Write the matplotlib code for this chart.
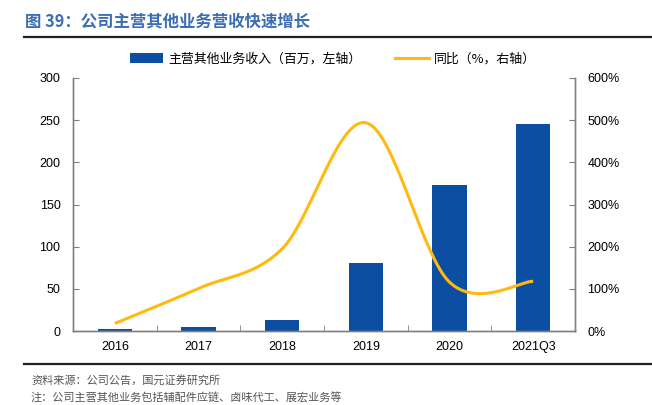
import numpy as np
import matplotlib
matplotlib.use("Agg")
import matplotlib.pyplot as plt
from matplotlib.patches import Patch
from matplotlib.lines import Line2D
from matplotlib.ticker import FuncFormatter

plt.rcParams['font.family'] = ['Liberation Sans', 'Noto Sans CJK SC', 'DejaVu Sans']
CJK = ['Noto Sans CJK SC', 'DejaVu Sans']

categories = ['2016', '2017', '2018', '2019', '2020', '2021Q3']
revenue = [2.4, 4.7, 13.4, 80.3, 173.5, 245.6]          # 百万
yoy = [0.18, 1.01, 1.95, 4.94, 1.16, 1.18]              # 同比 (fraction)
left_ticks = [0, 50, 100, 150, 200, 250, 300]
right_ticks = [0, 1, 2, 3, 4, 5, 6]

title = '图 39：公司主营其他业务营收快速增长'
bar_label = '主营其他业务收入（百万，左轴）'
line_label = '同比（%，右轴）'
source = '资料来源：公司公告，国元证券研究所'
note = '注：公司主营其他业务包括辅配件应链、卤味代工、展宏业务等'

BLUE = '#0B4EA2'
GOLD = '#FFB90F'
SPINE = '#808080'

W, H = 652, 405
fig = plt.figure(figsize=(W / 100, H / 100), dpi=100)
L, R, T, B = 73, 575, 78, 331
ax = fig.add_axes([L / W, 1 - B / H, (R - L) / W, (B - T) / H])
ax2 = ax.twinx()

x = np.arange(len(categories))
ax.bar(x, revenue, width=0.41, color=BLUE, zorder=2)
ax.set_xlim(-0.5, len(categories) - 0.5)
ax.set_ylim(0, 300)
ax.set_yticks(left_ticks)
ax2.set_ylim(0, 6)
ax2.set_yticks(right_ticks)
ax2.yaxis.set_major_formatter(FuncFormatter(lambda v, p: f'{v*100:.0f}%'))

# Smooth line (Excel-style Catmull-Rom Bezier) through the data points
px = x.astype(float)
py = np.array(yoy, dtype=float)
n = len(px)
cx, cy = [], []
tt = np.linspace(0, 1, 40)
for i in range(n - 1):
    p0 = np.array([px[max(i - 1, 0)], py[max(i - 1, 0)]])
    p1 = np.array([px[i], py[i]])
    p2 = np.array([px[i + 1], py[i + 1]])
    p3 = np.array([px[min(i + 2, n - 1)], py[min(i + 2, n - 1)]])
    c1 = p1 + (p2 - p0) / 6
    c2 = p2 - (p3 - p1) / 6
    for t in tt:
        b = ((1 - t) ** 3) * p1 + 3 * ((1 - t) ** 2) * t * c1 + 3 * (1 - t) * t * t * c2 + t ** 3 * p2
        cx.append(b[0]); cy.append(b[1])
ax2.plot(cx, cy, color=GOLD, lw=2.2, solid_capstyle='butt', zorder=3)

ax.set_xticks(x)
ax.set_xticklabels(categories)
ax.set_xticks(np.arange(-0.5, len(categories), 1.0), minor=True)
ax.tick_params(axis='x', which='major', length=0, pad=7, labelsize=9)
ax.tick_params(axis='x', which='minor', direction='in', length=4, color=SPINE)
ax.tick_params(axis='y', direction='in', length=4, color=SPINE, pad=9, labelsize=9)
ax2.tick_params(axis='y', direction='in', length=4, color=SPINE, pad=9, labelsize=9)

for a in (ax, ax2):
    a.spines['top'].set_visible(False)
    for s in ('left', 'right', 'bottom'):
        a.spines[s].set_color(SPINE)
        a.spines[s].set_linewidth(1.0)

# Title and rules
fig.text(25 / W, 1 - 21 / H, title, family=CJK, fontsize=11.8, fontweight='bold',
         color='#3B6DB3', va='center', ha='left')
fig.add_artist(Line2D([24 / W, 1.0], [1 - 37 / H, 1 - 37 / H], color='#222222', lw=1.6))
fig.add_artist(Line2D([24 / W, 1.0], [1 - 364 / H, 1 - 364 / H], color='#222222', lw=1.6))

# Legend
handles = [Patch(facecolor=BLUE, edgecolor='none'),
           Line2D([0], [0], color=GOLD, lw=2.2)]
leg = fig.legend(handles, [bar_label, line_label], loc='center',
                 bbox_to_anchor=(333 / W, 1 - 59 / H), ncol=2, frameon=False,
                 prop={'family': CJK, 'size': 9.3}, handlelength=2.6, handleheight=0.7,
                 handletextpad=0.4, columnspacing=2.6)

fig.text(31 / W, 1 - 380 / H, source, family=CJK, fontsize=8, color='#555555',
         va='center', ha='left')
fig.text(31 / W, 1 - 398 / H, note, family=CJK, fontsize=8, color='#555555',
         va='center', ha='left')

fig.savefig('out.png', dpi=100)
